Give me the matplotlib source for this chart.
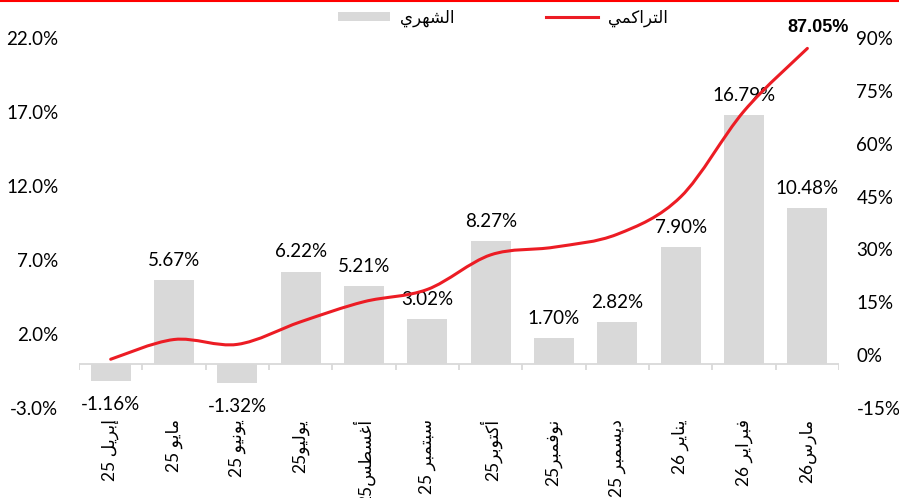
import re
import numpy as np
import matplotlib
matplotlib.use("Agg")
import matplotlib.pyplot as plt
from matplotlib.path import Path
from matplotlib.patches import PathPatch, Patch
from matplotlib.lines import Line2D

# ---------------- data ----------------
months = ["إبريل 25", "مايو 25", "يونيو 25", "يوليو25", "أغسطس25", "سبتمبر 25",
          "أكتوبر25", "نوفمبر25", "ديسمبر 25", "يناير 26", "فبراير 26", "مارس26"]
monthly = [-1.16, 5.67, -1.32, 6.22, 5.21, 3.02, 8.27, 1.70, 2.82, 7.90, 16.79, 10.48]
cumulative = [-1.16, 4.44, 3.06, 9.47, 15.17, 18.65, 28.46, 30.64, 34.32, 44.93, 69.27, 87.05]
left_ticks = [-3.0, 2.0, 7.0, 12.0, 17.0, 22.0]
right_ticks = [-15, 0, 15, 30, 45, 60, 75, 90]
legend_monthly = "الشهري"
legend_cum = "التراكمي"

# ---------------- minimal Arabic shaping (presentation forms) ----------------
FORMS = {
    'ا': ('\uFE8D', '\uFE8E', None, None),
    'أ': ('\uFE83', '\uFE84', None, None),
    'إ': ('\uFE87', '\uFE88', None, None),
    'ب': ('\uFE8F', '\uFE90', '\uFE91', '\uFE92'),
    'ت': ('\uFE95', '\uFE96', '\uFE97', '\uFE98'),
    'د': ('\uFEA9', '\uFEAA', None, None),
    'ر': ('\uFEAD', '\uFEAE', None, None),
    'س': ('\uFEB1', '\uFEB2', '\uFEB3', '\uFEB4'),
    'ش': ('\uFEB5', '\uFEB6', '\uFEB7', '\uFEB8'),
    'ط': ('\uFEC1', '\uFEC2', '\uFEC3', '\uFEC4'),
    'غ': ('\uFECD', '\uFECE', '\uFECF', '\uFED0'),
    'ف': ('\uFED1', '\uFED2', '\uFED3', '\uFED4'),
    'ك': ('\uFED9', '\uFEDA', '\uFEDB', '\uFEDC'),
    'ل': ('\uFEDD', '\uFEDE', '\uFEDF', '\uFEE0'),
    'م': ('\uFEE1', '\uFEE2', '\uFEE3', '\uFEE4'),
    'ن': ('\uFEE5', '\uFEE6', '\uFEE7', '\uFEE8'),
    'ه': ('\uFEE9', '\uFEEA', '\uFEEB', '\uFEEC'),
    'و': ('\uFEED', '\uFEEE', None, None),
    'ي': ('\uFEF1', '\uFEF2', '\uFEF3', '\uFEF4'),
}


def shape(word):
    out = []
    for i, c in enumerate(word):
        if c not in FORMS:
            out.append(c)
            continue
        prev = word[i - 1] if i > 0 else None
        nxt = word[i + 1] if i + 1 < len(word) else None
        jp = prev in FORMS and FORMS[prev][2] is not None
        jn = nxt in FORMS and FORMS[c][2] is not None
        iso, fin, ini, med = FORMS[c]
        if jp and jn:
            out.append(med)
        elif jp:
            out.append(fin)
        elif jn:
            out.append(ini)
        else:
            out.append(iso)
    return ''.join(out)


def visual(s):
    toks = re.findall(r'[\u0600-\u06FF]+|\d+|\s+|.', s)
    res = []
    for t in reversed(toks):
        if re.match(r'[\u0600-\u06FF]', t):
            res.append(shape(t)[::-1])
        else:
            res.append(t)
    return ''.join(res)


# ---------------- figure ----------------
plt.rcParams['font.family'] = ['Lato', 'DejaVu Sans']
BAR = '#D9D9D9'
RED = '#EC1C24'
AXC = '#D9D9D9'
FS = 13.5

fig = plt.figure(figsize=(8.99, 4.98), dpi=100)
ax = fig.add_axes([0.0879, 0.1807, 0.8454, 0.743])
n = len(months)
x = np.arange(n)

bars = ax.bar(x, monthly, width=0.63, color=BAR, zorder=2)
anns = ax.bar_label(bars, labels=[f"{v:.2f}%" for v in monthly], padding=8,
                    fontsize=FS, color='black')
for a, v in zip(anns, monthly):
    if v < 0:
        a.xyann = (0, -11)

ax.set_xlim(-0.5, n - 0.5)
ax.set_ylim(left_ticks[0], left_ticks[-1])
ax.set_yticks(left_ticks)
ax.set_yticklabels([f"{v:.1f}%" for v in left_ticks], fontsize=FS)
ax.tick_params(axis='y', length=0, pad=15)
ax.set_xticks(x)
ax.set_xticklabels([visual(m) for m in months], rotation=90, fontsize=12.5)
ax.tick_params(axis='x', length=0, pad=8)
for s in ax.spines.values():
    s.set_visible(False)

# category axis at zero with boundary ticks
ax.axhline(0, color=AXC, lw=1.3, zorder=1)
ax.vlines(np.arange(n + 1) - 0.5, -0.4, 0, color=AXC, lw=1.3, zorder=1)

# cumulative line on secondary axis (smoothed Bezier through points)
ax2 = ax.twinx()
ax2.set_ylim(right_ticks[0], right_ticks[-1])
ax2.set_yticks(right_ticks)
ax2.set_yticklabels([f"{v:.0f}%" for v in right_ticks], fontsize=FS)
ax2.tick_params(axis='y', length=0, pad=12.5)
for s in ax2.spines.values():
    s.set_visible(False)

P = np.column_stack([x, cumulative]).astype(float)
verts = [P[0]]
codes = [Path.MOVETO]
for i in range(n - 1):
    p0 = P[i - 1] if i > 0 else P[i]
    p1, p2 = P[i], P[i + 1]
    p3 = P[i + 2] if i + 2 < n else P[i + 1]
    c1 = p1 + (p2 - p0) / 6.0
    c2 = p2 - (p3 - p1) / 6.0
    verts += [c1, c2, p2]
    codes += [Path.CURVE4] * 3
ax2.add_patch(PathPatch(Path(verts, codes), fill=False, edgecolor=RED, lw=2.2,
                        capstyle='round', zorder=3))

ax2.annotate(f"{cumulative[-1]:.2f}%", (x[-1], cumulative[-1]), xytext=(8, 15),
             textcoords='offset points', ha='center', va='center', fontsize=13,
             fontweight='bold', family=['Liberation Sans', 'DejaVu Sans'])

# legend
handles = [Patch(facecolor=BAR, edgecolor='none'), Line2D([], [], color=RED, lw=2.2)]
fig.legend(handles, [visual(legend_monthly), visual(legend_cum)], loc='center',
           bbox_to_anchor=(0.5595, 0.964), ncol=2, frameon=False, fontsize=12,
           handlelength=3.1, handleheight=0.5, handletextpad=0.6, columnspacing=5.5)

# red top border
fig.add_artist(Line2D([0, 1], [1 - 1 / 498, 1 - 1 / 498], transform=fig.transFigure,
                      color='#FF0000', lw=1.5))

fig.savefig("out.png", dpi=100)
